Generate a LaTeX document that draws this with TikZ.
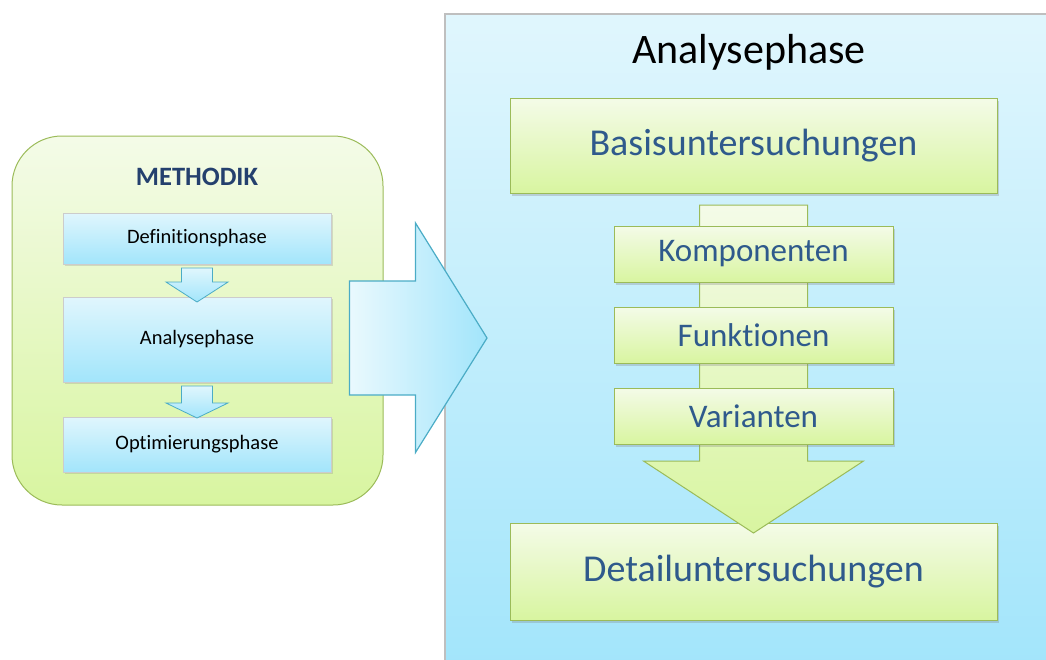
\documentclass[tikz,border=0pt]{standalone}
\usepackage{fontspec}
\setmainfont{Carlito}[Ligatures=NoCommon]
\usepackage{xcolor}
\usepackage{tikz}
\usetikzlibrary{positioning, calc, shadows}

\definecolor{skytop}{HTML}{E0F6FD}
\definecolor{skybottom}{HTML}{A2E5FB}
\definecolor{limetop}{HTML}{F4FBE8}
\definecolor{limebottom}{HTML}{D8F5A0}
\definecolor{limeline}{HTML}{9BBB59}
\definecolor{aqualine}{HTML}{4BACC6}
\definecolor{steeltext}{HTML}{2F5A8C}
\definecolor{navytext}{HTML}{24406E}

\begin{document}
\begin{tikzpicture}[
    x=1pt, y=-1pt,
    node distance=25pt,
    panel/.style={draw=black!25, line width=1.5pt, top color=skytop, bottom color=skybottom,
      minimum width=620pt, minimum height=660pt, inner sep=0pt, outer sep=0pt},
    methbox/.style={draw=limeline, line width=1pt, rounded corners=50pt, top color=limetop,
      bottom color=limebottom, minimum width=371pt, minimum height=369pt, inner sep=0pt},
    phasebox/.style={draw=black!20, line width=0.8pt, top color=skytop, bottom color=skybottom,
      minimum width=268pt, inner sep=0pt, outer sep=0pt, font=\fontsize{20.5}{23}\selectfont,
      drop shadow={shadow xshift=1.5pt, shadow yshift=-2pt, opacity=0.25}},
    bigbox/.style={draw=limeline, line width=1pt, top color=limetop, bottom color=limebottom,
      minimum width=487pt, inner sep=0pt, outer sep=0pt, text=steeltext,
      font=\fontsize{38}{43}\selectfont,
      drop shadow={shadow xshift=2pt, shadow yshift=-3pt, opacity=0.3}},
    stepbox/.style={draw=limeline, line width=1pt, top color=limetop, bottom color=limebottom,
      minimum width=279pt, minimum height=56pt, inner sep=0pt, outer sep=0pt, text=steeltext,
      font=\fontsize{33}{37}\selectfont,
      drop shadow={shadow xshift=2pt, shadow yshift=-3pt, opacity=0.3}},
    bluearrow/.style={draw=aqualine, line width=0.8pt, top color=skytop, bottom color=skybottom},
    greenarrow/.style={draw=limeline, line width=1pt, top color=limetop, bottom color=limebottom}
]
\useasboundingbox (0,0) rectangle (1046,659);

\node[panel, anchor=north west] (panel) at (445,14) {};
\node[anchor=base, font=\fontsize{42}{47}\selectfont] (title) at (749,63) {Analysephase};
\node[bigbox, minimum height=95pt] (basis) at (753.5,145.5) {Basisuntersuchungen};
\node[bigbox, minimum height=97pt] (detail) at (753.5,571.5) {Detailuntersuchungen};

\path[greenarrow] ($(basis.south)+(-54,12)$) -- ++(108,0) -- ($(basis.south)+(54,268)$)
  -- ++(56,0) -- ($(detail.north)+(0,10)$) -- ($(basis.south)+(-110,268)$) -- ++(56,0) -- cycle;

\node[stepbox] (komp) at (753.5,254) {Komponenten};
\node[stepbox, below=of komp] (funk) {Funktionen};
\node[stepbox, below=of funk] (var) {Varianten};

\node[methbox] (meth) at (197.5,320.5) {};
\node[anchor=base, font=\fontsize{26.5}{30}\selectfont\bfseries, text=navytext] (mtitle) at (197,185) {METHODIK};
\node[phasebox, minimum height=51pt] (def) at (197,238.5) {Definitionsphase};
\node[phasebox, minimum height=85pt] (ana) at (197,339.5) {Analysephase};
\node[phasebox, minimum height=55pt] (opt) at (197,444.5) {Optimierungsphase};

\path[bluearrow] ($(def.south)+(-15.5,4)$) -- ++(31,0) -- ++(0,14) -- ++(15.5,0)
  -- ($(ana.north)+(0,5)$) -- ($(def.south)+(-31,18)$) -- ++(15.5,0) -- cycle;
\path[bluearrow] ($(ana.south)+(-15.5,4)$) -- ++(31,0) -- ++(0,17) -- ++(15.5,0)
  -- ($(opt.north)+(0,1)$) -- ($(ana.south)+(-31,21)$) -- ++(15.5,0) -- cycle;

\coordinate (from) at ($(meth.east|-ana.center)+(-34,-1.5)$);
\coordinate (to) at ($(panel.west|-from)+(42,0)$);
\path[draw=aqualine, line width=1.2pt, left color=skytop!70!white, right color=skybottom]
  ($(from)+(0,-57)$) -- ++(66,0) -- ++(0,-58) -- (to) -- ($(from)+(66,114.5)$)
  -- ++(0,-57.5) -- ($(from)+(0,57)$) -- cycle;
\end{tikzpicture}
\end{document}
